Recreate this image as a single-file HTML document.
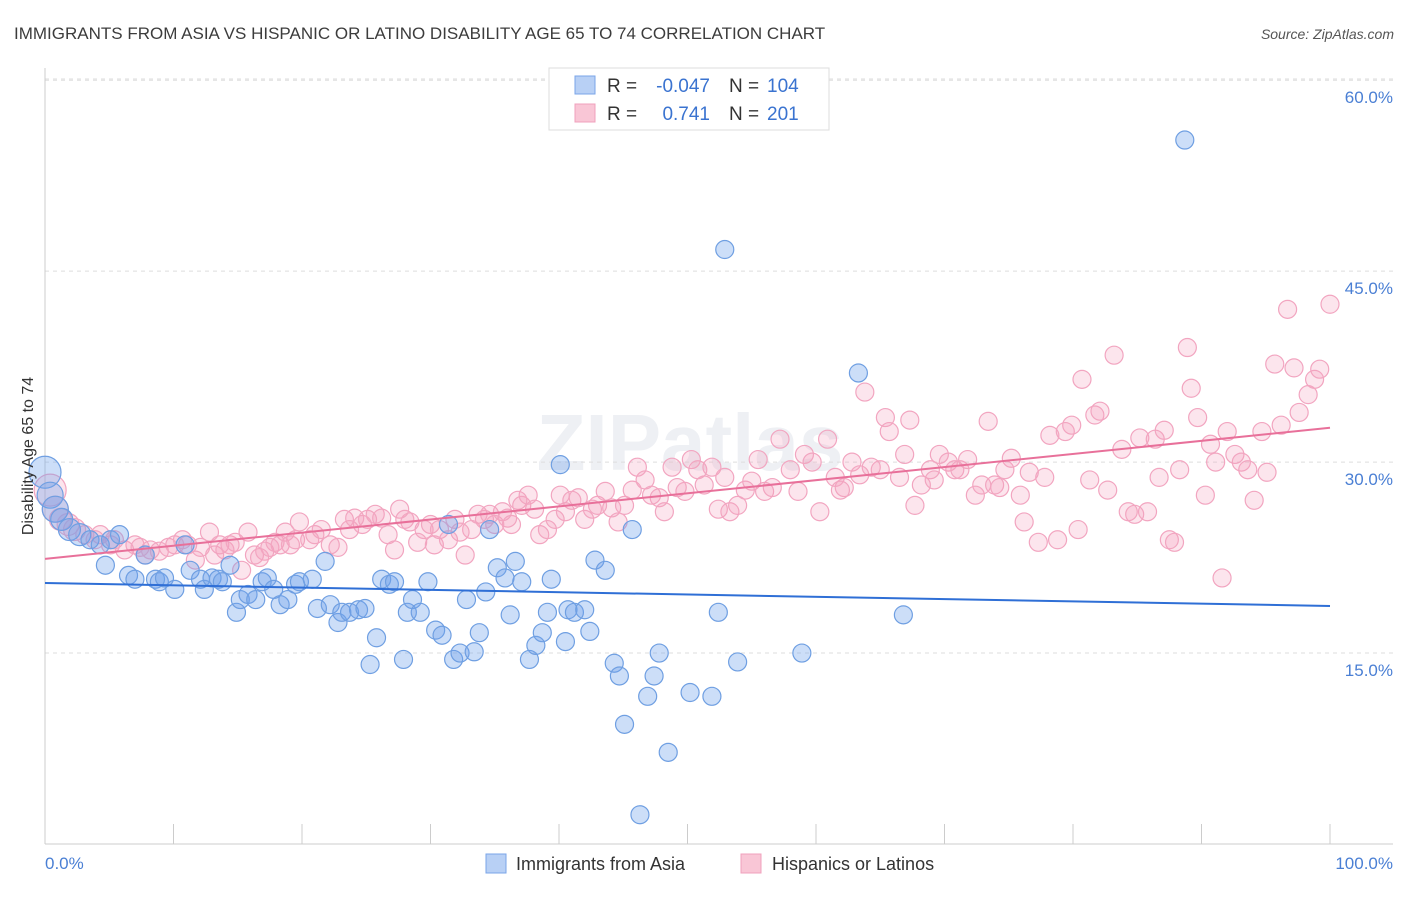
<!DOCTYPE html>
<html><head><meta charset="utf-8"><style>
body{margin:0;background:#fff;font-family:"Liberation Sans",sans-serif}
svg text{font-family:"Liberation Sans",sans-serif}
</style></head><body>
<svg width="1406" height="892" id="chart">
<text x="14" y="39" font-size="17" fill="#3c3c3c">IMMIGRANTS FROM ASIA VS HISPANIC OR LATINO DISABILITY AGE 65 TO 74 CORRELATION CHART</text>
<text x="1394" y="39" font-size="14" fill="#555" font-style="italic" text-anchor="end">Source: ZipAtlas.com</text>
<text x="690" y="470" font-size="80" fill="#eef0f4" text-anchor="middle" font-weight="bold">ZIPatlas</text>
<g id="grid"></g><g id="pts"></g><g id="lines"></g>
<text transform="translate(33,456) rotate(-90)" font-size="16" fill="#333" text-anchor="middle">Disability Age 65 to 74</text>
<text x="45" y="869" font-size="17" fill="#4a7fd4">0.0%</text>
<text x="1393" y="869" font-size="17" fill="#4a7fd4" text-anchor="end">100.0%</text>
<g font-size="19">
<rect x="549" y="68" width="280" height="62" fill="#fff" stroke="#ddd"/>
<rect x="575" y="76" width="20" height="18" fill="#b8d0f5" stroke="#7aa5e8"/>
<rect x="575" y="104" width="20" height="18" fill="#f9c6d6" stroke="#f0a0bc"/>
<text x="607" y="92" fill="#333">R =</text>
<text x="710" y="92" fill="#3a73d0" text-anchor="end">-0.047</text>
<text x="729" y="92" fill="#333">N =</text>
<text x="767" y="92" fill="#3a73d0">104</text>
<text x="607" y="120" fill="#333">R =</text>
<text x="710" y="120" fill="#3a73d0" text-anchor="end">0.741</text>
<text x="729" y="120" fill="#333">N =</text>
<text x="767" y="120" fill="#3a73d0">201</text>
</g>
<g>
<rect x="486" y="854" width="20" height="19" fill="#b8d0f5" stroke="#7aa5e8"/>
<text x="516" y="870" font-size="18" fill="#333">Immigrants from Asia</text>
<rect x="741" y="854" width="20" height="19" fill="#f9c6d6" stroke="#f0a0bc"/>
<text x="772" y="870" font-size="18" fill="#333">Hispanics or Latinos</text>
</g>
</svg>
<script>
const yTicks=[15,30,45,60];
const yTickLabels=["15.0%","30.0%","45.0%","60.0%"];
const xTicks=[0,10,20,30,40,50,60,70,80,90,100];
const asiaX=[0,.4,.8,1.3,1.9,2.7,3.5,4.3,4.7,5.1,5.8,6.5,7.0,7.8,8.6,8.9,9.3,10.1,10.9,11.3,12.1,12.4,13.0,13.5,13.8,14.4,14.9,15.2,15.8,16.4,16.9,17.3,17.8,18.3,18.9,19.5,19.8,20.8,21.2,21.8,22.2,22.8,23.1,23.7,24.4,24.9,25.3,25.8,26.2,26.8,27.2,27.9,28.2,28.6,29.2,29.8,30.4,30.9,31.4,31.8,32.3,32.8,33.4,33.8,34.3,34.6,35.2,35.8,36.2,36.6,37.1,37.7,38.2,38.7,39.1,39.4,40.1,40.5,40.7,41.2,42.0,42.4,42.8,43.6,44.3,44.7,45.1,45.7,46.3,46.9,47.4,47.8,48.5,50.2,51.9,52.4,52.9,53.9,58.9,63.3,66.8,88.7];
const asiaY=[29.2,27.4,26.3,25.5,24.7,24.3,23.9,23.5,21.9,23.9,24.3,21.1,20.8,22.7,20.8,20.6,20.9,20.0,23.5,21.5,20.8,20.0,20.9,20.8,20.6,21.9,18.2,19.2,19.6,19.2,20.6,20.9,20.0,18.8,19.2,20.4,20.6,20.8,18.5,22.2,18.8,17.4,18.2,18.2,18.4,18.5,14.1,16.2,20.8,20.4,20.6,14.5,18.2,19.2,18.2,20.6,16.8,16.4,25.1,14.5,15.0,19.2,15.1,16.6,19.8,24.7,21.7,20.9,18.0,22.2,20.6,14.5,15.6,16.6,18.2,20.8,29.8,15.9,18.4,18.2,18.4,16.7,22.3,21.5,14.2,13.2,9.4,24.7,2.3,11.6,13.2,15.0,7.2,11.9,11.6,18.2,46.7,14.3,15.0,37.0,18.0,55.3];
const hispX=[.4,.8,1.2,1.8,2.3,3.1,3.9,4.3,5.1,5.4,6.2,7.0,7.4,7.8,8.2,8.9,9.6,10.1,10.7,11.1,11.7,12.1,12.8,13.2,13.6,14.0,14.4,14.8,15.3,15.8,16.3,16.7,17.1,17.5,17.9,18.3,18.7,19.1,19.5,19.8,20.6,21.0,21.5,22.2,22.8,23.3,23.7,24.1,24.7,25.1,25.7,26.2,26.7,27.2,27.6,28.0,28.4,29.0,29.5,30.0,30.3,30.7,31.4,31.9,32.3,32.7,33.2,33.7,34.2,34.6,35.0,35.6,36.0,36.3,36.8,37.1,37.6,38.1,38.5,39.1,39.7,40.1,40.5,41.0,41.5,42.0,42.6,43.0,43.6,44.1,44.6,45.1,45.7,46.1,46.7,47.2,47.8,48.2,48.8,49.2,49.8,50.3,50.8,51.3,51.9,52.4,52.9,53.3,53.9,54.5,55.0,55.5,56.0,56.6,57.2,58.0,58.6,59.1,59.7,60.3,60.9,61.5,61.9,62.2,62.8,63.4,63.8,64.3,65.0,65.4,65.7,66.5,66.9,67.3,67.7,68.2,68.9,69.2,69.6,70.3,70.8,71.2,71.8,72.4,72.9,73.4,73.9,74.3,74.7,75.2,75.9,76.2,76.6,77.3,77.8,78.2,78.8,79.4,79.9,80.4,80.7,81.3,81.7,82.1,82.7,83.2,83.8,84.3,84.8,85.2,85.8,86.4,86.7,87.1,87.5,87.9,88.3,88.9,89.2,89.7,90.3,90.7,91.1,91.6,92.0,92.6,93.1,93.6,94.1,94.7,95.1,95.7,96.2,96.7,97.2,97.6,98.3,98.8,99.2,100];
const hispY=[27.8,26.3,25.5,25.1,24.7,24.3,23.9,24.3,23.5,23.9,23.1,23.5,23.3,22.7,23.1,23.0,23.3,23.5,23.9,23.5,22.3,23.3,24.5,22.7,23.5,23.1,23.5,23.7,21.5,24.5,22.7,22.5,23.0,23.3,23.7,23.5,24.5,23.5,23.9,25.3,23.9,24.3,24.7,23.5,23.3,25.5,24.7,25.6,25.1,25.5,25.9,25.6,24.3,23.1,26.3,25.5,25.3,23.7,24.7,25.1,23.5,24.7,23.9,25.5,24.5,22.7,24.7,25.9,25.5,25.9,25.1,26.1,25.6,25.1,27.0,26.6,27.4,26.3,24.3,24.7,25.5,27.4,26.1,27.0,27.2,25.5,26.3,26.6,27.7,26.4,25.3,26.6,27.8,29.6,28.6,27.4,27.2,26.1,29.6,28.0,27.7,30.2,29.4,28.2,29.6,26.3,28.8,26.1,26.6,27.8,28.5,30.2,27.7,28.0,31.8,29.4,27.7,30.6,30.0,26.1,31.8,28.8,27.8,28.0,30.0,29.0,35.5,29.6,29.4,33.5,32.4,28.8,30.6,33.3,26.6,28.2,29.4,28.6,30.6,30.0,29.4,29.4,30.2,27.4,28.2,33.2,28.2,28.0,29.4,30.3,27.4,25.3,29.2,23.7,28.8,32.1,23.9,32.4,32.9,24.7,36.5,28.6,33.7,34.0,27.8,38.4,31.0,26.1,25.9,31.9,26.1,31.8,28.8,32.5,23.9,23.7,29.4,39.0,35.8,33.5,27.4,31.4,30.0,20.9,32.4,30.6,30.0,29.4,27.0,32.4,29.2,37.7,32.9,42.0,37.4,33.9,35.3,36.5,37.3,42.4];
const asiaTrend=[20.5,18.7];
const hispTrend=[22.4,32.7];
const NS='http://www.w3.org/2000/svg';
const xs=v=>45+v*12.85, ys=v=>844-v*12.73;
function mk(tag,attrs,parent){const e=document.createElementNS(NS,tag);for(const k in attrs)e.setAttribute(k,attrs[k]);document.getElementById(parent).appendChild(e);return e;}
yTicks.forEach((t,i)=>{
 const l=mk('line',{x1:45,x2:1393,y1:ys(t),y2:ys(t),stroke:'#ddd','stroke-dasharray':'4,4'},'grid');
 
 
 const tx=mk('text',{x:1393,y:ys(t)+23,'font-size':17,fill:'#4a7fd4','text-anchor':'end'},'grid');tx.textContent=yTickLabels[i];
 
 
});
const topGrid=mk('line',{x1:45,x2:1393,y1:79,y2:79,stroke:'#ddd','stroke-dasharray':'4,4'},'grid');


const yAxisLine=mk('line',{x1:45,x2:45,y1:68,y2:844,stroke:'#ccc'},'grid');


const xAxisLine=mk('line',{x1:45,x2:1393,y1:844,y2:844,stroke:'#ccc'},'grid');


xTicks.forEach(t=>{const l=mk('line',{x1:xs(t),x2:xs(t),y1:824,y2:844,stroke:'#ccc'},'grid');
 
 });
function pts(X,Y,fill,stroke,name){X.forEach((x,i)=>{let r=9;if(x<1)r=i===0?16:13;else if(x<3)r=11;
 const c=mk('circle',{cx:xs(x),cy:ys(Y[i]),r:r,fill:fill,stroke:stroke,'stroke-width':1.2},'pts');
 
 });}
pts(hispX,hispY,'rgba(245,160,190,0.28)','#f2a5c0','hispanic-point');
pts(asiaX,asiaY,'rgba(110,160,235,0.35)','#6f9fe2','asia-point');
const blueLine=mk('line',{x1:xs(0),y1:ys(asiaTrend[0]),x2:xs(100),y2:ys(asiaTrend[1]),stroke:'#2f6fd6','stroke-width':2},'lines');


const pinkLine=mk('line',{x1:xs(0),y1:ys(hispTrend[0]),x2:xs(100),y2:ys(hispTrend[1]),stroke:'#e8709a','stroke-width':2},'lines');


</script>
</body></html>
